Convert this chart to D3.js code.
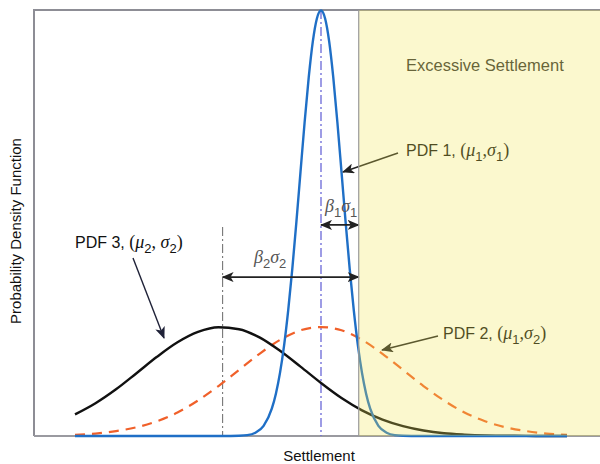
<!DOCTYPE html>
<html>
<head>
<meta charset="utf-8">
<script src="https://cdn.jsdelivr.net/npm/d3@7"></script>
<style>
  body { margin: 0; background: #fff; }
  text { font-family: "Liberation Sans", Arial, sans-serif; }
</style>
</head>
<body>
<div id="chart"></div>
<script>
// settlement grid (in units of sigma2, centred on mu1) and densities
const wideGrid = [-3, -2.75, -2.5, -2.25, -2, -1.75, -1.5, -1.25, -1, -0.75, -0.5, -0.25, 0,
  0.25, 0.5, 0.75, 1, 1.25, 1.5, 1.75, 2, 2.25, 2.5, 2.75, 3];

const pdf2Values = [0.004, 0.009, 0.018, 0.032, 0.054, 0.086, 0.130, 0.183, 0.242, 0.301, 0.352, 0.387, 0.399,
  0.387, 0.352, 0.301, 0.242, 0.183, 0.130, 0.086, 0.054, 0.032, 0.018, 0.009, 0.004];

const pdf3Values = [0.079, 0.120, 0.171, 0.230, 0.290, 0.343, 0.381, 0.398, 0.391, 0.361, 0.312, 0.254, 0.194,
  0.139, 0.094, 0.060, 0.036, 0.020, 0.010, 0.005, 0.002, 0.001, 0.0004, 0.0001, 0];

const narrowGrid = [-3, -1.2, -1, -0.9, -0.8, -0.7, -0.6, -0.55, -0.5, -0.45, -0.4, -0.35, -0.3, -0.25,
  -0.2, -0.15, -0.1, -0.05, 0, 0.05, 0.1, 0.15, 0.2, 0.25, 0.3, 0.35, 0.4, 0.45, 0.5, 0.55, 0.6,
  0.7, 0.8, 0.9, 1, 1.2, 3];

const pdf1Values = [0, 0, 0.001, 0.003, 0.012, 0.037, 0.100, 0.155, 0.231, 0.332, 0.460, 0.612, 0.784, 0.967,
  1.148, 1.312, 1.444, 1.529, 1.558, 1.529, 1.444, 1.312, 1.148, 0.967, 0.784, 0.612, 0.460, 0.332,
  0.231, 0.155, 0.100, 0.037, 0.012, 0.003, 0.001, 0, 0];

const mu1 = 0;
const mu2 = -1.2;
const limit = 0.46;

const W = 600, H = 464;
const plot = { left: 34, right: 600, top: 10, bottom: 436 };

const svg = d3.select("#chart")
  .append("svg")
  .attr("width", W)
  .attr("height", H);

const xScale = d3.scaleLinear()
  .domain([-3.5, 3.4])
  .range([plot.left, plot.left + 6.9 * 82]);

const yScale = d3.scaleLinear()
  .domain([0, 1.56])
  .range([plot.bottom, plot.top]);

const line = d3.line()
  .x(d => xScale(d[0]))
  .y(d => yScale(d[1]))
  .curve(d3.curveMonotoneX);

// arrow heads
const defs = svg.append("defs");
[["headDark", "#222"], ["headNavy", "#1f2238"]].forEach(([id, c]) => {
  defs.append("marker")
    .attr("id", id)
    .attr("viewBox", "0 0 12 10")
    .attr("refX", 11)
    .attr("refY", 5)
    .attr("markerWidth", 12)
    .attr("markerHeight", 10)
    .attr("markerUnits", "userSpaceOnUse")
    .attr("orient", "auto-start-reverse")
    .append("path")
    .attr("d", "M0,0 L12,5 L0,10 L3,5 Z")
    .attr("fill", c);
});

// frame
svg.append("path")
  .attr("d", `M${plot.left},${plot.bottom} L${plot.left},${plot.top} L${plot.right},${plot.top}`)
  .attr("fill", "none")
  .attr("stroke", "#8d8d95")
  .attr("stroke-width", 2);

svg.append("line")
  .attr("x1", plot.left).attr("x2", plot.right)
  .attr("y1", plot.bottom).attr("y2", plot.bottom)
  .attr("stroke", "#9a9aa0")
  .attr("stroke-width", 2);

// mean lines
svg.append("line")
  .attr("x1", xScale(mu1)).attr("x2", xScale(mu1))
  .attr("y1", plot.top).attr("y2", plot.bottom)
  .attr("stroke", "#6a68d8")
  .attr("stroke-width", 1.3)
  .attr("stroke-dasharray", "9,3,2,3");

svg.append("line")
  .attr("x1", xScale(mu2)).attr("x2", xScale(mu2))
  .attr("y1", yScale(0.765)).attr("y2", plot.bottom)
  .attr("stroke", "#777")
  .attr("stroke-width", 1.1)
  .attr("stroke-dasharray", "9,3,2,3");

// curves
svg.append("path")
  .datum(d3.zip(wideGrid, pdf2Values))
  .attr("fill", "none")
  .attr("stroke", "#f0602a")
  .attr("stroke-width", 2.2)
  .attr("stroke-dasharray", "10,7")
  .attr("d", line);

svg.append("path")
  .datum(d3.zip(wideGrid, pdf3Values))
  .attr("fill", "none")
  .attr("stroke", "#111")
  .attr("stroke-width", 2.4)
  .attr("d", line);

svg.append("path")
  .datum(d3.zip(narrowGrid, pdf1Values))
  .attr("fill", "none")
  .attr("stroke", "#1f6fc6")
  .attr("stroke-width", 2.4)
  .attr("stroke-linejoin", "round")
  .attr("d", line);

// beta-sigma spans
function span(x0, x1, yv) {
  svg.append("line")
    .attr("x1", xScale(x0)).attr("x2", xScale(x1))
    .attr("y1", yScale(yv)).attr("y2", yScale(yv))
    .attr("stroke", "#222")
    .attr("stroke-width", 1.8)
    .attr("marker-start", "url(#headDark)")
    .attr("marker-end", "url(#headDark)");
}
span(mu1, limit, 0.773);
span(mu2, limit, 0.582);

function greekLabel(x, y, parts, color) {
  const t = svg.append("text")
    .attr("x", x)
    .attr("y", y)
    .attr("fill", color)
    .attr("font-size", 16);
  parts.forEach(p => {
    const s = t.append("tspan").text(p.text);
    if (p.greek) s.attr("font-family", "'Liberation Serif', 'DejaVu Serif', serif").attr("font-style", "italic").attr("font-size", 18);
    if (p.serif) s.attr("font-family", "'Liberation Serif', serif").attr("font-size", 18);
    if (p.sub) s.attr("font-size", 13).attr("dy", 5);
    if (p.up) s.attr("dy", -5);
  });
  return t;
}

greekLabel(325, 212, [
  { text: "β", greek: true }, { text: "1", sub: true },
  { text: "σ", greek: true, up: true }, { text: "1", sub: true }
], "#555");

greekLabel(254, 263, [
  { text: "β", greek: true }, { text: "2", sub: true },
  { text: "σ", greek: true, up: true }, { text: "2", sub: true }
], "#555");

// annotations
const ann = [
  { x: 406, y: 156, n: "1", a: "1", b: "1", sep: ",", from: [398, 153], to: [343, 172] },
  { x: 443, y: 339, n: "2", a: "1", b: "2", sep: ",", from: [438, 336], to: [382, 350] },
  { x: 75, y: 248, n: "3", a: "2", b: "2", sep: ", ", from: [133, 258], to: [164, 338] }
];

ann.forEach((d, i) => {
  greekLabel(d.x, d.y, [
    { text: `PDF ${d.n}, ` },
    { text: "(", serif: true },
    { text: "μ", greek: true }, { text: d.a, sub: true },
    { text: d.sep, serif: true, up: true },
    { text: "σ", greek: true }, { text: d.b, sub: true },
    { text: ")", serif: true, up: true }
  ], "#111");

  svg.append("line")
    .attr("x1", d.from[0]).attr("y1", d.from[1])
    .attr("x2", d.to[0]).attr("y2", d.to[1])
    .attr("stroke", i === 2 ? "#1f2238" : "#222")
    .attr("stroke-width", 1.4)
    .attr("marker-end", i === 2 ? "url(#headNavy)" : "url(#headDark)");
});

svg.append("text")
  .attr("x", 406)
  .attr("y", 71)
  .attr("font-size", 16.5)
  .attr("fill", "#333")
  .text("Excessive Settlement");

// excessive settlement zone
svg.append("rect")
  .attr("x", xScale(limit))
  .attr("y", plot.top)
  .attr("width", plot.right - xScale(limit))
  .attr("height", plot.bottom - plot.top)
  .attr("fill", "rgb(240,230,80)")
  .attr("opacity", 0.28);

svg.append("line")
  .attr("x1", xScale(limit)).attr("x2", xScale(limit))
  .attr("y1", plot.top).attr("y2", plot.bottom)
  .attr("stroke", "#9a9a9a")
  .attr("stroke-width", 1.2);

// axis titles
svg.append("text")
  .attr("transform", `translate(21,${(plot.top + plot.bottom) / 2 + 8}) rotate(-90)`)
  .attr("text-anchor", "middle")
  .attr("font-size", 15)
  .attr("fill", "#111")
  .text("Probability Density Function");

svg.append("text")
  .attr("x", xScale(mu1) - 2)
  .attr("y", 461)
  .attr("text-anchor", "middle")
  .attr("font-size", 15)
  .attr("fill", "#111")
  .text("Settlement");
</script>
</body>
</html>
